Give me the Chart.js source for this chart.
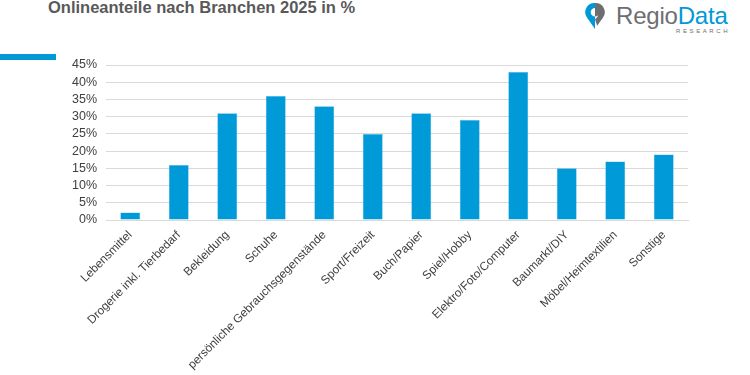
<!DOCTYPE html>
<html>
<head>
<meta charset="utf-8">
<script src="https://cdn.jsdelivr.net/npm/chart.js@4"></script>
<style>
  html, body { margin: 0; padding: 0; background: #fff; }
  body { width: 750px; height: 375px; position: relative; overflow: hidden; font-family: "Liberation Sans", Arial, sans-serif; }
  #title { position: absolute; left: 48px; top: -2px; font-size: 16.5px; font-weight: bold; color: #595959; white-space: nowrap; }
  #bar { position: absolute; left: 0; top: 54px; width: 56px; height: 6px; background: #0099d8; }
  #logo { position: absolute; left: 584px; top: 2px; }
  #logo .name { position: absolute; left: 32px; top: 0; font-size: 24px; white-space: nowrap; letter-spacing: -0.2px; }
  #logo .res { position: absolute; left: 92px; top: 26px; font-size: 6px; letter-spacing: 2.6px; color: #6d6e71; white-space: nowrap; }
  #wrap { position: absolute; left: 0; top: 0; width: 750px; height: 375px; }
</style>
</head>
<body>
<div id="title">Onlineanteile nach Branchen 2025 in %</div>
<div id="bar"></div>
<div id="logo">
  <svg width="22" height="28" viewBox="0 0 20 26" style="position:absolute;left:0;top:0">
    <path d="M10 1 A8.5 8.5 0 0 0 3 15 L10 25 Z M10 5.5 A4 4 0 0 0 10 13.5 Z" fill="#0099d8" fill-rule="evenodd"/>
    <path d="M10 1 A8.5 8.5 0 0 1 17 15 L12 22 L10 16 A6 6 0 0 0 10 5.5 A4 4 0 0 1 10 13.5 Z" fill="#6d6e71"/>
  </svg>
  <span class="name"><span style="color:#6d6e71">Regio</span><span style="color:#0099d8">Data</span></span>
  <span class="res">RESEARCH</span>
</div>
<div id="wrap"><canvas id="chart"></canvas></div>
<script>
// Branchen und Onlineanteile 2025 (in %)
const categories = ['Lebensmittel', 'Drogerie inkl. Tierbedarf', 'Bekleidung', 'Schuhe',
  'persönliche Gebrauchsgegenstände', 'Sport/Freizeit', 'Buch/Papier', 'Spiel/Hobby',
  'Elektro/Foto/Computer', 'Baumarkt/DIY', 'Möbel/Heimtextilien', 'Sonstige'];
const shares = [2.2, 16, 31, 36, 33, 25, 31, 29, 43, 15, 17, 19];
const yMax = 45;
const yStep = 5;

const ctx = document.getElementById('chart').getContext('2d');
const chart = new Chart(ctx, {
  type: 'bar',
  data: {
    labels: categories,
    datasets: [{
      label: 'Onlineanteil',
      data: shares,
      backgroundColor: '#009ad9',
      borderColor: '#4fb8e6',
      borderWidth: 0.5,
      categoryPercentage: 1,
      barPercentage: 0.41
    }]
  },
  options: {
    responsive: true,
    maintainAspectRatio: false,
    animation: false,
    layout: { padding: { left: 63, right: 62, top: 65, bottom: 0 } },
    plugins: {
      legend: { display: false },
      tooltip: { enabled: false }
    },
    scales: {
      x: {
        grid: { display: false },
        border: { color: '#d9d9d9' },
        afterFit: (axis) => { axis.height = 155; },
        ticks: {
          minRotation: 45,
          maxRotation: 45,
          autoSkip: false,
          padding: 0,
          color: '#404040',
          font: { family: '"Liberation Sans", Arial, sans-serif', size: 11.8 }
        }
      },
      y: {
        min: 0,
        max: yMax,
        grid: { color: '#d9d9d9', drawTicks: false },
        border: { display: false },
        ticks: {
          stepSize: yStep,
          autoSkip: false,
          padding: 9,
          color: '#404040',
          font: { family: '"Liberation Sans", Arial, sans-serif', size: 12.5 },
          callback: (v) => v + '%'
        }
      }
    }
  }
});
</script>
</body>
</html>
